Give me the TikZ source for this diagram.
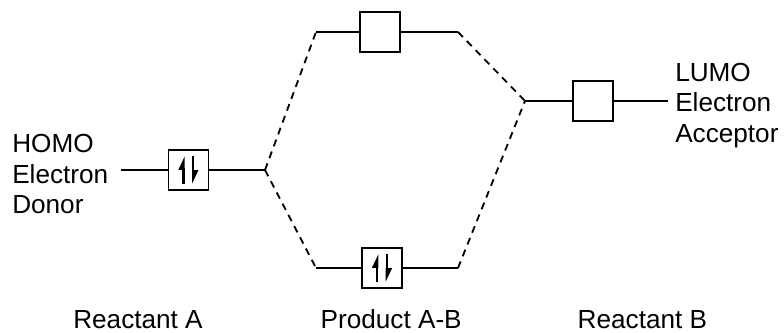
\documentclass[tikz,border=0pt]{standalone}
\usepackage{fontspec}
\setmainfont{Liberation Sans}
\usetikzlibrary{arrows.meta,positioning,calc}

\begin{document}
\begin{tikzpicture}[
    orbital/.style={rectangle, draw, line width=1pt, minimum size=1cm, inner sep=0pt},
    level/.style={line width=1.3pt},
    link/.style={line width=1.3pt, dash pattern=on 5pt off 4pt},
    spin/.style={line width=1.6pt, -{Triangle[left, length=8pt, width=7pt]}},
    label/.style={font=\fontsize{18.6}{21.7}\selectfont, align=left, inner sep=0pt},
    caption/.style={font=\fontsize{18.6}{21.7}\selectfont, inner sep=0pt}
]
\useasboundingbox (0,0) rectangle (19.6,8.325);

% Orbital boxes
\node[orbital] (homo) at (4.71,4.075) {};
\node[orbital] (prodtop) at (9.5,7.525) {};
\node[orbital] (prodbot) at (9.55,1.625) {};
\node[orbital] (lumo) at (14.825,5.8) {};

% Level end points
\coordinate (homo_l) at (3.025,4.075);
\coordinate (homo_r) at (6.625,4.075);
\coordinate (top_l) at (7.9,7.525);
\coordinate (top_r) at (11.45,7.525);
\coordinate (bot_l) at (7.9,1.625);
\coordinate (bot_r) at (11.45,1.625);
\coordinate (lumo_l) at (13.125,5.8);
\coordinate (lumo_r) at (16.7,5.8);

% Levels
\draw[level] (homo_l) -- (homo);
\draw[level] (homo) -- (homo_r);
\draw[level] (top_l) -- (prodtop);
\draw[level] (prodtop) -- (top_r);
\draw[level] (bot_l) -- (prodbot);
\draw[level] (prodbot) -- (bot_r);
\draw[level] (lumo_l) -- (lumo);
\draw[level] (lumo) -- (lumo_r);

% Correlation lines
\draw[link] (homo_r) -- (top_l);
\draw[link] (homo_r) -- (bot_l);
\draw[link] (top_r) -- (lumo_l);
\draw[link] (bot_r) -- (lumo_l);

% Electron pairs
\draw[spin] ($(homo.center)+(-0.12,-0.35)$) -- ++(0,0.7);
\draw[spin] ($(homo.center)+(0.12,0.35)$) -- ++(0,-0.7);
\draw[spin] ($(prodbot.center)+(-0.12,-0.35)$) -- ++(0,0.7);
\draw[spin] ($(prodbot.center)+(0.12,0.35)$) -- ++(0,-0.7);

% Labels
\node[label, anchor=west] (donor) at (0.3,3.97) {HOMO\\Electron\\Donor};
\node[label, anchor=west] (acceptor) at (16.875,5.69) {LUMO\\Electron\\Acceptor};

\node[caption, anchor=base] (react_a) at (3.45,0.1) {Reactant A};
\node[caption, anchor=base] (product) at (9.78,0.1) {Product A-B};
\node[caption, anchor=base] (react_b) at (16.06,0.1) {Reactant B};

\end{tikzpicture}
\end{document}
